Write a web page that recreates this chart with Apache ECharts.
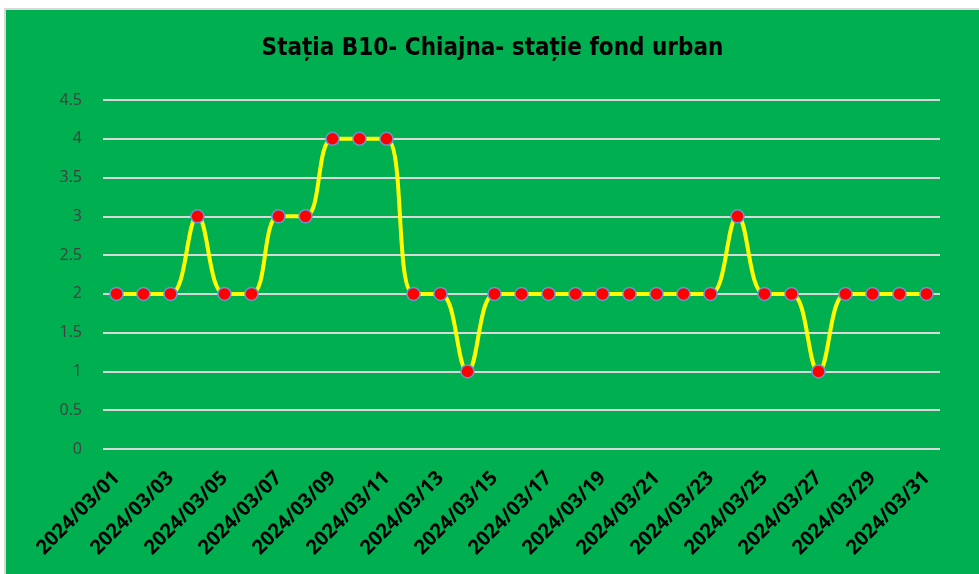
<!DOCTYPE html>
<html>
<head>
<meta charset="utf-8">
<script src="https://cdn.jsdelivr.net/npm/echarts@6/dist/echarts.min.js"></script>
<style>
  html, body { margin: 0; padding: 0; background: #fff; }
  #wrap { position: absolute; left: 4px; top: 8px; right: 0; bottom: 0; border-left: 2px solid #d9d9d9; border-top: 2px solid #d9d9d9; background: #00b050; }
  #chart { width: 100%; height: 100%; }
</style>
</head>
<body>
<div id="wrap"><div id="chart"></div></div>
<script>
const dates = [
  '2024/03/01', '2024/03/02', '2024/03/03', '2024/03/04', '2024/03/05', '2024/03/06', '2024/03/07', '2024/03/08',
  '2024/03/09', '2024/03/10', '2024/03/11', '2024/03/12', '2024/03/13', '2024/03/14', '2024/03/15', '2024/03/16',
  '2024/03/17', '2024/03/18', '2024/03/19', '2024/03/20', '2024/03/21', '2024/03/22', '2024/03/23', '2024/03/24',
  '2024/03/25', '2024/03/26', '2024/03/27', '2024/03/28', '2024/03/29', '2024/03/30', '2024/03/31'
]
const values = [2, 2, 2, 3, 2, 2, 3, 3, 4, 4, 4, 2, 2, 1, 2, 2, 2, 2, 2, 2, 2, 2, 2, 3, 2, 2, 1, 2, 2, 2, 2]
const title = 'Stația B10- Chiajna- stație fond urban'

const chart = echarts.init(document.getElementById('chart'))
chart.setOption({
  animation: false,
  title: {
    text: title,
    left: 'center',
    top: 22,
    textStyle: { fontFamily: "'DejaVu Sans Condensed', 'Open Sans'", fontWeight: 'bold', fontSize: 24, color: '#000' }
  },
  grid: { left: 97, right: 39, top: 90, bottom: 125 },
  xAxis: {
    type: 'category',
    data: dates,
    boundaryGap: true,
    axisLine: { show: false },
    axisTick: { show: false },
    axisLabel: {
      interval: 1,
      rotate: 45,
      margin: 26,
      color: '#000',
      fontWeight: 'bold',
      fontFamily: 'Open Sans',
      fontSize: 20
    }
  },
  yAxis: {
    type: 'value',
    min: 0,
    max: 4.5,
    interval: 0.5,
    axisLine: { show: false },
    axisTick: { show: false },
    axisLabel: { color: '#404040', fontFamily: 'Open Sans', fontSize: 16, margin: 21 },
    splitLine: { lineStyle: { color: '#d9d9d9', width: 2 } }
  },
  series: [
    {
      type: 'line',
      data: values,
      smooth: 0.4,
      symbol: 'circle',
      symbolSize: 13,
      lineStyle: { color: '#ffff00', width: 4 },
      itemStyle: { color: '#ff0000', borderColor: '#6a94cf', borderWidth: 1.5 }
    }
  ]
})
</script>
</body>
</html>
